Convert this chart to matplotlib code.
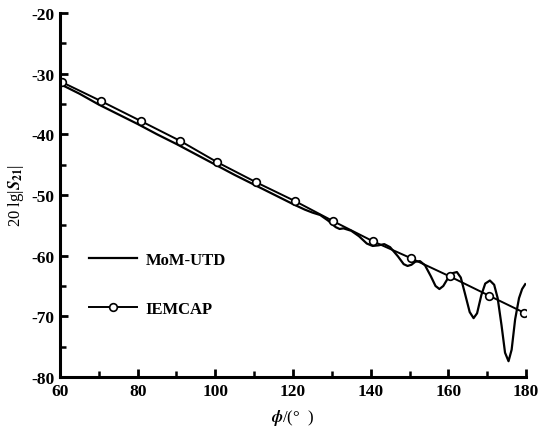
import matplotlib
matplotlib.use("Agg")
import matplotlib.pyplot as plt
from matplotlib.ticker import MultipleLocator

plt.rcParams['font.family'] = ['Liberation Serif', 'DejaVu Serif']
plt.rcParams['font.weight'] = 'bold'
plt.rcParams['mathtext.fontset'] = 'stix'
plt.rcParams['axes.unicode_minus'] = False

# MoM-UTD curve
mom_phi = [60, 65, 70, 75, 80, 85, 90, 95, 100, 105, 110, 115, 120, 123, 125, 127,
           129, 131, 132, 133, 135, 137, 139, 140.5, 142, 143.5, 145, 147, 148.5,
           149.5, 150.5, 151.5, 152.7, 154, 155.5, 156.7, 157.7, 158.7, 160, 161,
           162.2, 163.2, 164.3, 165.5, 166.5, 167.4, 168.5, 169.5, 170.7, 171.8,
           172.7, 173.7, 174.6, 175.5, 176.3, 177.2, 178.2, 179, 179.8]
mom_val = [-31.7, -33.3, -35.1, -36.7, -38.3, -40.0, -41.6, -43.3, -45.0, -46.7,
           -48.3, -49.9, -51.5, -52.4, -52.9, -53.3, -54.2, -55.3, -55.6, -55.5,
           -55.9, -56.8, -58.0, -58.4, -58.3, -58.1, -58.6, -60.1, -61.4, -61.7,
           -61.5, -61.0, -60.9, -61.6, -63.4, -65.0, -65.5, -65.0, -63.6, -62.9,
           -62.7, -63.6, -66.3, -69.3, -70.3, -69.5, -66.5, -64.6, -64.1, -64.8,
           -67.0, -71.5, -76.0, -77.4, -75.5, -70.5, -67.0, -65.5, -64.7]

# IEMCAP points
iem_phi = [60.5, 70.5, 80.8, 91, 100.5, 110.5, 120.5, 130.3, 140.5, 150.3, 160.3, 170.5, 179.5]
iem_val = [-31.4, -34.5, -37.8, -41.1, -44.6, -47.9, -51.0, -54.3, -57.6, -60.4, -63.4, -66.6, -69.4]

fig = plt.figure(figsize=(5.39, 4.27), dpi=100)
ax = fig.add_axes([0.1113, 0.1148, 0.8646, 0.8524])

ax.plot(mom_phi, mom_val, color='black', linewidth=1.6, label='MoM-UTD')
ax.plot(iem_phi, iem_val, color='black', linewidth=1.4, marker='o', markersize=5.5,
        markerfacecolor='white', markeredgecolor='black', markeredgewidth=1.2,
        label='IEMCAP')

ax.set_xlim(60, 180)
ax.set_ylim(-80, -20)
ax.xaxis.set_major_locator(MultipleLocator(20))
ax.xaxis.set_minor_locator(MultipleLocator(10))
ax.yaxis.set_major_locator(MultipleLocator(10))
ax.yaxis.set_minor_locator(MultipleLocator(5))

for s in ['top', 'right']:
    ax.spines[s].set_visible(False)
for s in ['left', 'bottom']:
    ax.spines[s].set_linewidth(2.2)

ax.tick_params(which='major', direction='in', length=6, width=2, labelsize=12.5, pad=4)
ax.tick_params(which='minor', direction='in', length=4, width=1.8)

ax.set_xlabel(r'$\phi$/(°  )', fontsize=12, labelpad=6)
ax.set_ylabel(r'20 lg|$S_{21}$|', fontsize=12, labelpad=4)

ax.legend(loc='upper left', bbox_to_anchor=(0.03, 0.385), frameon=False, fontsize=12,
          handlelength=2.9, labelspacing=2.0, handletextpad=0.5)

fig.savefig('out.png', dpi=100)
